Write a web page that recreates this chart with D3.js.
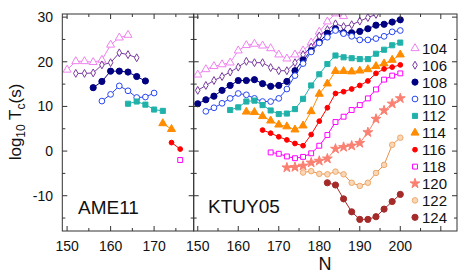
<!DOCTYPE html>
<html>
<head>
<meta charset="utf-8">
<script src="https://cdn.jsdelivr.net/npm/d3@7"></script>
<style>
  body { margin: 0; background: #fff; }
  text { font-family: "Liberation Sans", Arial, sans-serif; fill: #111; }
</style>
</head>
<body>
<div id="chart"></div>
<script>
// isotopes (Z) shown in legend
var isotopes = [104, 106, 108, 110, 112, 114, 116, 118, 120, 122, 124];
var colors = ["#ee82ee", "#7a3a9e", "#000080", "#2846f5", "#20b2aa", "#ff8c00",
              "#ff0000", "#ff00ff", "#fa8072", "#f0a868", "#a52a2a"];
var lineColors = ["#ee82ee", "#7a3a9e", "#000080", "#2846f5", "#20b2aa", "#ff8c00",
              "#ff0000", "#ff00ff", "#fa8072", "#e8904a", "#a52a2a"];

// AME11 panel, [N, log10 Tc]
var ame104 = [[150,18.2],[152,20.1],[154,20.1],[156,19.9],[158,20.4],[160,23.8],[162,25.4],[164,26.0]];
var ame106 = [[152,17.4],[154,17.4],[156,17.5],[158,19.3],[160,19.8],[162,22.0],[164,21.6],[166,20.9]];
var ame108 = [[156,14.2],[158,15.6],[160,17.9],[162,17.9],[164,17.7],[166,16.7],[168,15.7]];
var ame110 = [[158,11.2],[160,12.7],[162,14.6],[164,13.5],[166,12.0],[168,12.1],[170,13.0]];
var ame112 = [[164,10.6],[166,11.1],[168,10.4],[170,9.3],[172,9.0]];
var ame114 = [[172,6.2],[174,4.9]];
var ame116 = [[174,1.9],[176,0.45]];
var ame118 = [[176,-2.0]];
var ame120 = [], ame122 = [], ame124 = [];

// KTUY05 panel
var ktuy104 = [[150,17.1],[152,18.3],[154,19.0],[156,19.4],[158,19.8],[160,22.5],[162,23.7],[164,24.0],[166,23.6],[168,23.0],[170,21.6],[172,20.7],[174,21.6],[176,22.5],[178,24.3],[180,26.7],[182,29.0],[184,30.8],[186,30.2]];
var ktuy106 = [[150,13.6],[152,14.7],[154,15.8],[156,16.7],[158,17.7],[160,18.8],[162,20.1],[164,19.8],[166,19.8],[168,18.7],[170,18.0],[172,18.0],[174,19.8],[176,21.6],[178,23.3],[180,25.8],[182,27.2],[184,28.5],[186,27.9],[188,28.3],[190,29.1],[192,29.9],[194,30.6]];
var ktuy108 = [[150,10.6],[152,11.5],[154,12.3],[156,13.6],[158,14.7],[160,15.8],[162,15.8],[164,16.0],[166,15.1],[168,14.5],[170,14.7],[172,15.6],[174,18.0],[176,20.4],[178,22.5],[180,24.4],[182,26.4],[184,27.4],[186,26.5],[188,26.5],[190,26.8],[192,27.4],[194,28.2],[196,28.4],[198,28.9],[200,29.4]];
var ktuy110 = [[152,8.9],[154,9.7],[156,10.7],[158,11.8],[160,12.9],[162,12.6],[164,11.8],[166,11.1],[168,11.1],[170,11.8],[172,13.9],[174,16.9],[176,19.6],[178,22.2],[180,24.2],[182,25.5],[184,27.0],[186,26.3],[188,25.7],[190,24.9],[192,24.9],[194,25.2],[196,25.7],[198,26.7],[200,27.0]];
var ktuy112 = [[158,9.2],[160,9.8],[162,11.1],[164,11.3],[166,10.3],[168,9.1],[170,8.3],[172,8.4],[174,9.4],[176,11.7],[178,14.7],[180,17.2],[182,19.5],[184,21.4],[186,21.0],[188,20.8],[190,20.6],[192,20.6],[194,21.8],[196,22.7],[198,23.7],[200,24.3]];
var ktuy114 = [[162,8.8],[164,8.7],[166,7.8],[168,6.8],[170,5.9],[172,5.5],[174,4.8],[176,5.7],[178,8.9],[180,12.8],[182,15.1],[184,17.9],[186,17.9],[188,17.8],[190,18.0],[192,18.3],[194,19.0],[196,19.6],[198,20.4],[200,21.6]];
var ktuy116 = [[166,4.7],[168,4.0],[170,3.2],[172,2.5],[174,1.7],[176,1.2],[178,3.7],[180,6.7],[182,9.7],[184,12.9],[186,13.3],[188,13.9],[190,14.7],[192,15.7],[194,17.4],[196,18.4],[198,18.8],[200,19.3]];
var ktuy118 = [[168,-0.3],[170,-0.6],[172,-1.2],[174,-1.6],[176,-1.3],[178,-0.5],[180,1.2],[182,3.6],[184,6.5],[186,7.7],[188,9.2],[190,10.3],[192,11.8],[194,13.8],[196,16.0],[198,16.9],[200,17.4]];
var ktuy120 = [[172,-3.7],[174,-3.6],[176,-3.3],[178,-2.6],[180,-2.2],[182,-1.7],[184,0.5],[186,0.9],[188,1.2],[190,1.8],[192,4.2],[194,7.2],[196,9.1],[198,10.6],[200,11.8]];
var ktuy122 = [[176,-4.8],[178,-4.5],[180,-5.1],[182,-5.2],[184,-4.6],[186,-5.2],[188,-7.1],[190,-7.8],[192,-7.1],[194,-4.9],[196,-3.1],[198,1.4],[200,3.0]];
var ktuy124 = [[182,-7.1],[184,-7.6],[186,-10.7],[188,-13.6],[190,-15.3],[192,-15.3],[194,-14.7],[196,-13.0],[198,-11.3],[200,-9.7]];

var yTicks = [-10, 0, 10, 20, 30];
var leftXTicks = [150, 160, 170];
var rightXTicks = [150, 160, 170, 180, 190, 200];

var ameSeries = [ame104, ame106, ame108, ame110, ame112, ame114, ame116, ame118, ame120, ame122, ame124];
var ktuySeries = [ktuy104, ktuy106, ktuy108, ktuy110, ktuy112, ktuy114, ktuy116, ktuy118, ktuy120, ktuy122, ktuy124];

var W = 469, H = 276;
var top_ = 14, bottom_ = 231;
var svg = d3.select("#chart").append("svg")
    .attr("width", W).attr("height", H);

var y = d3.scaleLinear().domain([-17.9, 30.7]).range([bottom_, top_]);
var xL = d3.scaleLinear().domain([148.9, 179.1]).range([62.3, 193.7]);
var xR = d3.scaleLinear().domain([149, 214]).range([193.7, 457]);

// marker shapes per isotope
var shapes = [
    {t: d3.symbolTriangle, s: 28, fill: false},
    {t: d3.symbolDiamond, s: 18, fill: false},
    {t: d3.symbolCircle, s: 30, fill: true},
    {t: d3.symbolCircle, s: 26, fill: false},
    {t: d3.symbolSquare, s: 26, fill: true},
    {t: d3.symbolTriangle, s: 28, fill: true},
    {t: d3.symbolCircle, s: 18, fill: true},
    {t: d3.symbolSquare, s: 24, fill: false},
    {t: d3.symbolStar, s: 30, fill: true},
    {t: d3.symbolCircle, s: 24, fill: "pale"},
    {t: d3.symbolCircle, s: 30, fill: true}
];

function drawMarker(g, i, px, py) {
    var sh = shapes[i];
    var p = g.append("path")
        .attr("d", d3.symbol().type(sh.t).size(sh.s)())
        .attr("transform", "translate(" + px + "," + py + ")")
        .attr("stroke", colors[i])
        .attr("stroke-width", 1);
    if (sh.fill === true) p.attr("fill", colors[i]);
    else if (sh.fill === "pale") p.attr("fill", "#f8d8b8");
    else p.attr("fill", "#fff");
    return p;
}

function panel(x, series, xTicks, id) {
    var x0 = x.range()[0], x1 = x.range()[1];
    svg.append("clipPath").attr("id", id)
        .append("rect").attr("x", x0).attr("y", top_).attr("width", x1 - x0).attr("height", bottom_ - top_);

    var g = svg.append("g").attr("clip-path", "url(#" + id + ")");
    var line = d3.line().x(function(d) { return x(d[0]); }).y(function(d) { return y(d[1]); });

    series.forEach(function(s, i) {
        if (!s.length) return;
        g.append("path")
            .datum(s)
            .attr("d", line)
            .attr("fill", "none")
            .attr("stroke", lineColors[i])
            .attr("stroke-width", 1);
        s.forEach(function(d) { drawMarker(g, i, x(d[0]), y(d[1])); });
    });

    // axes, ticks pointing inward
    var allX = d3.range(150, x.domain()[1], 5);
    var ax = svg.append("g").attr("stroke", "#333").attr("stroke-width", 1);
    allX.forEach(function(v) {
        var len = (v % 10 == 0) ? 5 : 3;
        ax.append("line").attr("x1", x(v)).attr("x2", x(v)).attr("y1", bottom_).attr("y2", bottom_ - len);
        ax.append("line").attr("x1", x(v)).attr("x2", x(v)).attr("y1", top_).attr("y2", top_ + len);
    });
    d3.range(-15, 31, 5).forEach(function(v) {
        var len = (v % 10 == 0) ? 5 : 3;
        ax.append("line").attr("x1", x0).attr("x2", x0 + len).attr("y1", y(v)).attr("y2", y(v));
        ax.append("line").attr("x1", x1).attr("x2", x1 - len).attr("y1", y(v)).attr("y2", y(v));
    });
    svg.append("rect").attr("x", x0).attr("y", top_).attr("width", x1 - x0).attr("height", bottom_ - top_)
        .attr("fill", "none").attr("stroke", "#333").attr("stroke-width", 1);

    svg.append("g").selectAll("text").data(xTicks).enter().append("text")
        .attr("x", function(d) { return x(d); })
        .attr("y", 251)
        .attr("text-anchor", "middle")
        .style("font-size", "14px")
        .text(function(d) { return d; });
}

panel(xL, ameSeries, leftXTicks, "clipL");
panel(xR, ktuySeries, rightXTicks, "clipR");

// y tick labels
svg.append("g").selectAll("text").data(yTicks).enter().append("text")
    .attr("x", 53)
    .attr("y", function(d) { return y(d) + 5; })
    .attr("text-anchor", "end")
    .style("font-size", "14px")
    .text(function(d) { return d; });

// panel names
svg.append("text").attr("x", 78).attr("y", 214).style("font-size", "19px").text("AME11");
svg.append("text").attr("x", 208).attr("y", 213).style("font-size", "19px").text("KTUY05");

// axis titles
svg.append("text").attr("x", 325).attr("y", 270).attr("text-anchor", "middle")
    .style("font-size", "18px").text("N");

var yl = svg.append("text")
    .attr("transform", "translate(21,122) rotate(-90)")
    .attr("text-anchor", "middle")
    .style("font-size", "17px");
yl.append("tspan").text("log");
yl.append("tspan").attr("dy", 4).style("font-size", "12px").text("10");
yl.append("tspan").attr("dy", -4).text(" T");
yl.append("tspan").attr("dy", 4).style("font-size", "12px").text("c");
yl.append("tspan").attr("dy", -4).text("(s)");

// legend
var lg = svg.append("g");
isotopes.forEach(function(z, i) {
    var ly = 48.3 + i * 16.9;
    drawMarker(lg, i, 415, ly);
    lg.append("text").attr("x", 422).attr("y", ly + 5.5)
        .style("font-size", "15px").text(z);
});
</script>
</body>
</html>
